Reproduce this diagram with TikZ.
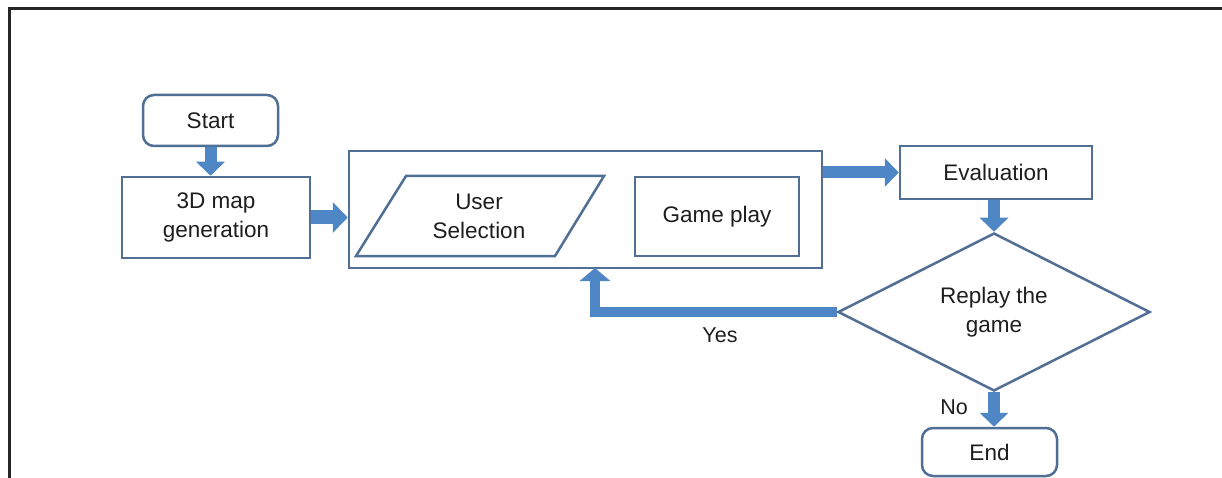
\documentclass[tikz,border=0pt]{standalone}
\usepackage{fontspec}
\setmainfont{Liberation Sans}
\usetikzlibrary{arrows.meta,shapes.geometric,calc}
\definecolor{boxc}{HTML}{4F6F94}
\definecolor{arrc}{HTML}{4F86C6}
\definecolor{txtc}{HTML}{1E1E1E}
\begin{document}
\begin{tikzpicture}[x=1pt,y=-1pt,
  every node/.style={font=\fontsize{22.5}{29}\selectfont, text=txtc, align=center, inner sep=0pt},
  boxn/.style={draw=boxc, line width=2.5pt, fill=white},
  roundn/.style={boxn, rounded corners=11pt},
  blockarrow/.style={draw=arrc, line width=12pt, -{Triangle[width=28pt,length=14pt]}},
  lbl/.style={font=\fontsize{21.5}{25}\selectfont}
]
\useasboundingbox (0,0) rectangle (1222,478);
\fill[white] (0,0) rectangle (1222,478);
% frame
\draw[line width=3pt, black!85] (9,478) -- (9,9) -- (1222,9);

% nodes
\node[roundn, minimum width=135pt, minimum height=51pt] (start) at (210.5,120.5) {Start};
\node[boxn, minimum width=188pt, minimum height=81pt] (gen) at (216,217.5) {3D map\\generation};
\node[boxn, minimum width=473pt, minimum height=117pt] (cont) at (585.5,209.5) {};
\draw[draw=boxc, line width=2.5pt] (356,256) -- (406,176) -- (604,176) -- (555,256) -- cycle;
\node (us) at (479,216) {User\\Selection};
\node[boxn, minimum width=164pt, minimum height=79pt] (game) at (717,216.5) {Game play};
\node[boxn, minimum width=192pt, minimum height=53pt] (eval) at (996,172.5) {Evaluation};
\node[boxn, diamond, minimum width=312pt, minimum height=158pt] (replay) at (994,312) {Replay the\\game};
\node[roundn, minimum width=135pt, minimum height=48pt] (end) at (989.5,452) {End};

\coordinate (yesup) at (595,268);

% connectors
\draw[blockarrow] (start.south) -- (start.south |- gen.north);
\draw[blockarrow, line width=14pt, -{Triangle[width=30pt,length=15pt]}] (gen.east) -- (gen.east -| cont.west);
\draw[blockarrow] (eval.west -| cont.east) -- (eval.west);
\draw[blockarrow] (replay.north |- eval.south) -- (replay.north);
\draw[blockarrow, line width=10pt, -{Triangle[width=30pt,length=13pt]}] (replay.west) -| (yesup);
\draw[blockarrow] (replay.south) -- (replay.south |- end.north);

% labels
\node[lbl] (yes) at (720,335) {Yes};
\node[lbl] (no) at (954,407) {No};
\end{tikzpicture}
\end{document}
